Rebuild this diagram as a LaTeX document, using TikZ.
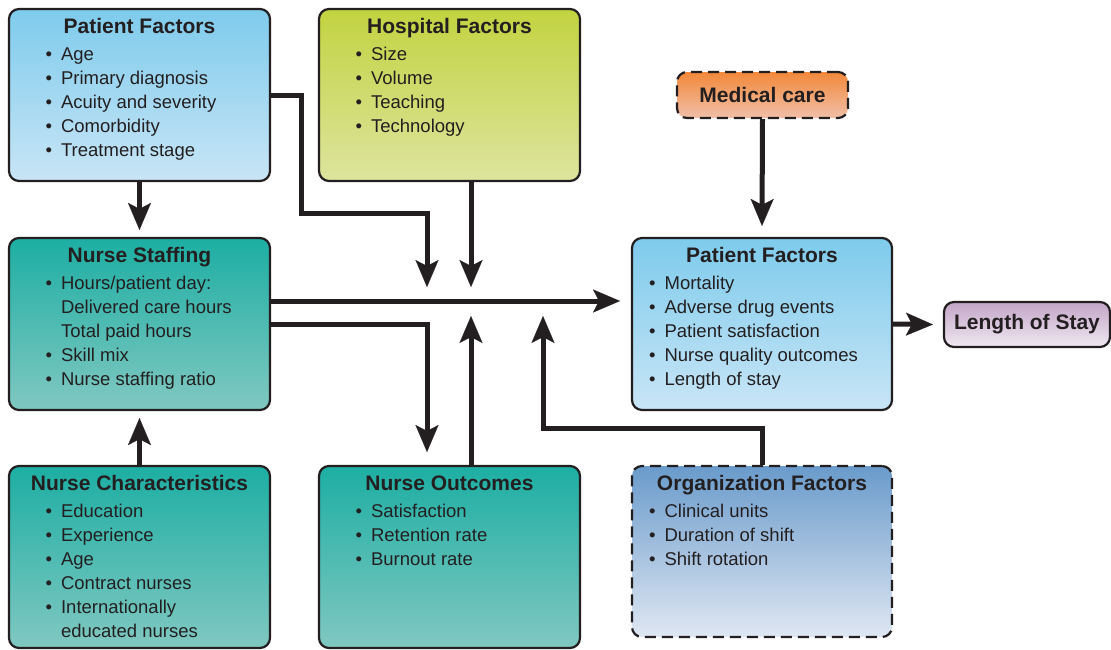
\documentclass[tikz,border=0pt]{standalone}
\usepackage{fontspec}
\setmainfont{Liberation Sans}
\usetikzlibrary{arrows.meta,calc}
\definecolor{ink}{HTML}{231F20}
\definecolor{blueT}{HTML}{7ECBEC}
\definecolor{blueB}{HTML}{C8E5F6}
\definecolor{greenT}{HTML}{C2D340}
\definecolor{greenB}{HTML}{DDE49E}
\definecolor{orangeT}{HTML}{F2883A}
\definecolor{orangeB}{HTML}{F0BFA8}
\definecolor{tealT}{HTML}{1DAEA3}
\definecolor{tealB}{HTML}{80C8C1}
\definecolor{purpT}{HTML}{C3A5C7}
\definecolor{purpB}{HTML}{F0E8F1}
\definecolor{orgT}{HTML}{6A9BCB}
\definecolor{orgB}{HTML}{DFE7F3}
\newcommand\bitem{\makebox[15.5pt][l]{\textbullet}}
\newcommand\inditem{\makebox[15.5pt][l]{}}
\newcommand\ttlfont{\fontsize{21}{24}\selectfont\bfseries}
\newcommand\lstfont{\fontsize{18.5}{24}\selectfont}
\begin{document}
\begin{tikzpicture}[x=1pt,y=-1pt,
  box/.style={draw=ink, line width=2.2pt, rounded corners=10pt, inner sep=0pt,
    minimum width=261pt, minimum height=172pt},
  dbox/.style={box, dash pattern=on 11pt off 6pt},
  bluebox/.style={top color=blueT, bottom color=blueB},
  greenbox/.style={top color=greenT, bottom color=greenB},
  tealbox/.style={top color=tealT, bottom color=tealB},
  ttl/.style={anchor=base, inner sep=0pt, font=\ttlfont, text=ink},
  lst/.style={anchor=north west, inner sep=0pt, align=left, font=\lstfont, text=ink},
  arr/.style={draw=ink, line width=5pt, line join=miter,
    -{Stealth[length=27pt,width=23pt,inset=6pt,line width=0.1pt]}}
]
\useasboundingbox (0,0) rectangle (1111,649);

% boxes
\node[box, bluebox] (pf1) at (139.5,95) {};
\node[box, greenbox] (hf) at (449.5,95) {};
\node[dbox, top color=orangeT, bottom color=orangeB, minimum width=171pt, minimum height=46pt,
  font=\ttlfont, text=ink] (mc) at (762.5,95) {Medical care};
\node[box, tealbox] (ns) at (139.5,324) {};
\node[box, bluebox, minimum width=260pt] (pf2) at (762,324) {};
\node[box, top color=purpT, bottom color=purpB, minimum width=166pt, minimum height=45pt,
  font=\ttlfont, text=ink] (los) at (1027,324.5) {Length of Stay};
\node[box, tealbox, minimum height=182pt] (nc) at (139.5,557) {};
\node[box, tealbox, minimum height=182pt] (no) at (449.5,557) {};
\node[dbox, top color=orgT, bottom color=orgB, minimum width=260pt, minimum height=171pt] (of) at (762,551.5) {};

% titles
\node[ttl] (pf1t) at ($(pf1.north)+(0,26)$) {Patient Factors};
\node[ttl] (hft) at ($(hf.north)+(0,26)$) {Hospital Factors};
\node[ttl] (nst) at ($(ns.north)+(0,26)$) {Nurse Staffing};
\node[ttl] (pf2t) at ($(pf2.north)+(0,26)$) {Patient Factors};
\node[ttl] (nct) at ($(nc.north)+(0,26)$) {Nurse Characteristics};
\node[ttl] (not) at ($(no.north)+(0,26)$) {Nurse Outcomes};
\node[ttl] (oft) at ($(of.north)+(0,26)$) {Organization Factors};

% lists
\node[lst] (pf1l) at ($(pf1.north west)+(37.5,35.5)$) {\strut\bitem Age\\\bitem Primary diagnosis\\\bitem Acuity and severity\\\bitem Comorbidity\\\bitem Treatment stage};
\node[lst] (hfl) at ($(hf.north west)+(37.5,35.5)$) {\strut\bitem Size\\\bitem Volume\\\bitem Teaching\\\bitem Technology};
\node[lst] (nsl) at ($(ns.north west)+(37.5,35.5)$) {\strut\bitem Hours/patient day:\\\inditem Delivered care hours\\\inditem Total paid hours\\\bitem Skill mix\\\bitem Nurse staffing ratio};
\node[lst] (pf2l) at ($(pf2.north west)+(18,35.5)$) {\strut\bitem Mortality\\\bitem Adverse drug events\\\bitem Patient satisfaction\\\bitem Nurse quality outcomes\\\bitem Length of stay};
\node[lst] (ncl) at ($(nc.north west)+(37.5,35.5)$) {\strut\bitem Education\\\bitem Experience\\\bitem Age\\\bitem Contract nurses\\\bitem Internationally\\\inditem educated nurses};
\node[lst] (nol) at ($(no.north west)+(37.5,35.5)$) {\strut\bitem Satisfaction\\\bitem Retention rate\\\bitem Burnout rate};
\node[lst] (ofl) at ($(of.north west)+(18,35.5)$) {\strut\bitem Clinical units\\\bitem Duration of shift\\\bitem Shift rotation};

% junction points
\coordinate (j1) at (427,287);
\coordinate (j2) at (471,287);
\coordinate (j3) at (620,301);
\coordinate (j4) at (427,452);
\coordinate (j5) at (471,316);
\coordinate (j6) at (543,316);

% connectors
\draw[arr] (pf1.south) -- ([yshift=7pt]ns.north);
\draw[arr] (nc.north) -- ([yshift=-7pt]ns.south);
\draw[arr] (pf1.east) -- ++(30,0) |- ($(j1)+(0,-74)$) -- (j1);
\draw[arr] ($(hf.south)+(21.5,0)$) -- (j2);
\draw[arr] ($(ns.east)+(0,-23)$) -- (j3);
\draw[arr] (ns.east) -| (j4);
\draw[arr] ($(no.north)+(21.5,0)$) -- (j5);
\draw[arr] (of.north) -- ++(0,-36) -| (j6);
\draw[arr] (mc.south) -- ([yshift=11pt]pf2.north);
\draw[arr] (pf2.east) -- ([xshift=-10pt]los.west);
\end{tikzpicture}
\end{document}
